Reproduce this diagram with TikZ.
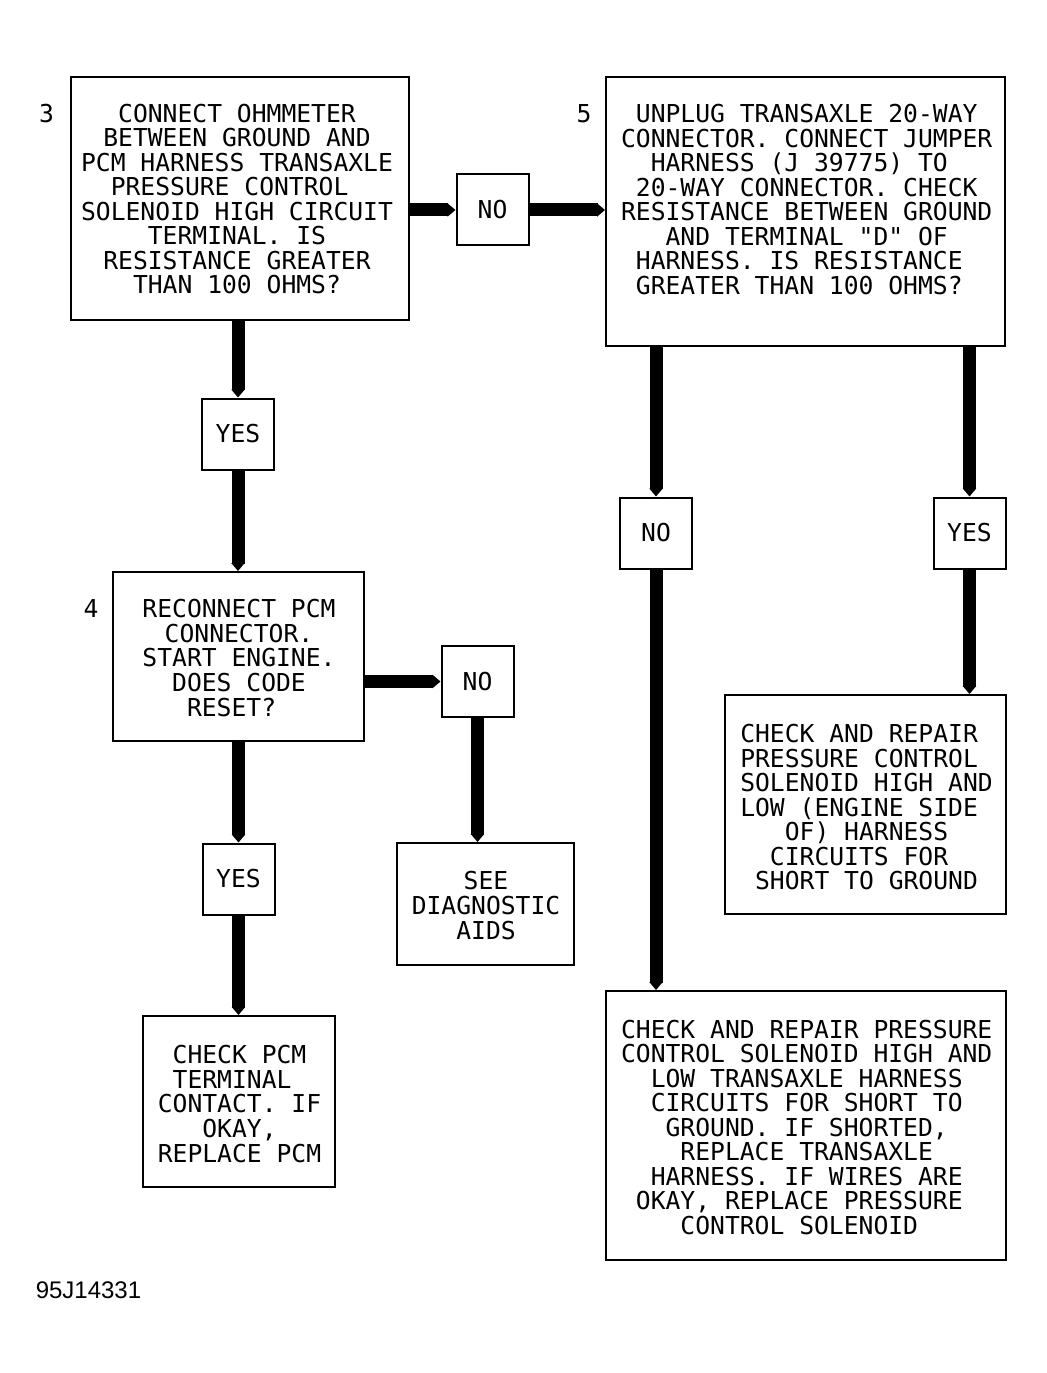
\documentclass[tikz,border=0pt]{standalone}
\usepackage{fontspec}
\newfontfamily\plotfont{DejaVu Sans Mono}
\newfontfamily\capfont{Liberation Sans}
\usetikzlibrary{arrows.meta,fit}
\newcommand\ph{\hphantom{X}}
\begin{document}
\begin{tikzpicture}[x=0.75pt,y=-0.75pt,
  box/.style={draw,line width=1.5pt,rectangle,inner sep=0pt},
  lbl/.style={draw,line width=1.5pt,rectangle,inner sep=0pt,minimum width=54pt,minimum height=53.25pt,
    font=\plotfont\fontsize{18.5pt}{18.4pt}\selectfont},
  txt/.style={inner sep=0pt,align=center,
    font=\plotfont\fontsize{18.5pt}{18.4pt}\selectfont,
    execute at begin node={\lineskiplimit=-30pt\relax\lineskip=0pt\relax}},
  num/.style={inner sep=0pt,font=\plotfont\fontsize{18.5pt}{18.4pt}\selectfont},
  bar/.style={line width=9.75pt,-{Triangle[length=6pt,width=0pt 1]}}]
\useasboundingbox (0,0) rectangle (1046,1373);

% boxes
\node[box,fit={(71,77) (409,320)}] (b3) {};
\node[box,fit={(606,77) (1005,346)}] (b5) {};
\node[box,fit={(113,572) (364,741)}] (b4) {};
\node[box,fit={(397,843) (574,965)}] (see) {};
\node[box,fit={(143,1016) (335,1187)}] (pcm) {};
\node[box,fit={(725,695) (1006,914)}] (eng) {};
\node[box,fit={(606,991) (1006,1260)}] (big) {};

% decision labels
\node[lbl] (no1) at (492.5,210) {NO};
\node[lbl] (yes1) at (238,434) {YES};
\node[lbl] (no2) at (477.5,681.5) {NO};
\node[lbl] (yes2) at (238.5,879) {YES};
\node[lbl] (no3) at (656,533) {NO};
\node[lbl] (yes3) at (969.5,533) {YES};

% step numbers
\node[num] (n3) at (46.5,113.5) {3};
\node[num] (n5) at (584,113.5) {5};
\node[num] (n4) at (91,608.5) {4};

% texts
\node[txt] (t3) at (237,202.5) {\strut CONNECT OHMMETER\\\strut BETWEEN GROUND AND\\\strut PCM HARNESS TRANSAXLE\\\strut PRESSURE CONTROL\ph\\\strut SOLENOID HIGH CIRCUIT\\\strut TERMINAL. IS\\\strut RESISTANCE GREATER\\\strut THAN 100 OHMS?};
\node[txt] (t5) at (806.7,203) {\strut UNPLUG TRANSAXLE 20-WAY\\\strut CONNECTOR. CONNECT JUMPER\\\strut HARNESS (J 39775) TO\ph\\\strut 20-WAY CONNECTOR. CHECK\\\strut RESISTANCE BETWEEN GROUND\\\strut AND TERMINAL "D" OF\\\strut HARNESS. IS RESISTANCE\ph\\\strut GREATER THAN 100 OHMS?\ph};
\node[txt] (t4) at (239,661.5) {\strut RECONNECT PCM\\\strut CONNECTOR.\\\strut START ENGINE.\\\strut DOES CODE\\\strut RESET?\ph};
\node[txt] (tsee) at (486,909) {\strut SEE\\\strut DIAGNOSTIC\\\strut AIDS};
\node[txt] (tpcm) at (239.5,1107.5) {\strut CHECK PCM\\\strut TERMINAL\ph\\\strut CONTACT. IF\\\strut OKAY,\\\strut REPLACE PCM};
\node[txt] (teng) at (866.5,810.7) {\strut CHECK AND REPAIR\ph\\\strut PRESSURE CONTROL\ph\\\strut SOLENOID HIGH AND\\\strut LOW (ENGINE SIDE\ph\\\strut OF) HARNESS\\\strut CIRCUITS FOR\ph\\\strut SHORT TO GROUND};
\node[txt] (tbig) at (806.7,1130.7) {\strut CHECK AND REPAIR PRESSURE\\\strut CONTROL SOLENOID HIGH AND\\\strut LOW TRANSAXLE HARNESS\\\strut CIRCUITS FOR SHORT TO\\\strut GROUND. IF SHORTED,\\\strut REPLACE TRANSAXLE\\\strut HARNESS. IF WIRES ARE\\\strut OKAY, REPLACE PRESSURE\ph\\\strut CONTROL SOLENOID\ph};

% figure code
\node[inner sep=0pt,anchor=base west,font=\capfont\fontsize{18pt}{18pt}\selectfont] (code) at (35.5,1298) {95J14331};

% connectors
\draw[bar] (no1.west -| b3.east) -- (no1.west);
\draw[bar] (no1.east) -- (no1.east -| b5.west);
\draw[bar] (yes1.north |- b3.south) -- (yes1.north);
\draw[bar] (yes1.south) -- (yes1.south |- b4.north);
\draw[bar] (no2.west -| b4.east) -- (no2.west);
\draw[bar] (no2.south) -- (no2.south |- see.north);
\draw[bar] (yes2.north |- b4.south) -- (yes2.north);
\draw[bar] (yes2.south) -- (yes2.south |- pcm.north);
\draw[bar] (no3.north |- b5.south) -- (no3.north);
\draw[bar] (no3.south) -- (no3.south |- big.north);
\draw[bar] (yes3.north |- b5.south) -- (yes3.north);
\draw[bar] (yes3.south) -- (yes3.south |- eng.north);
\end{tikzpicture}
\end{document}
